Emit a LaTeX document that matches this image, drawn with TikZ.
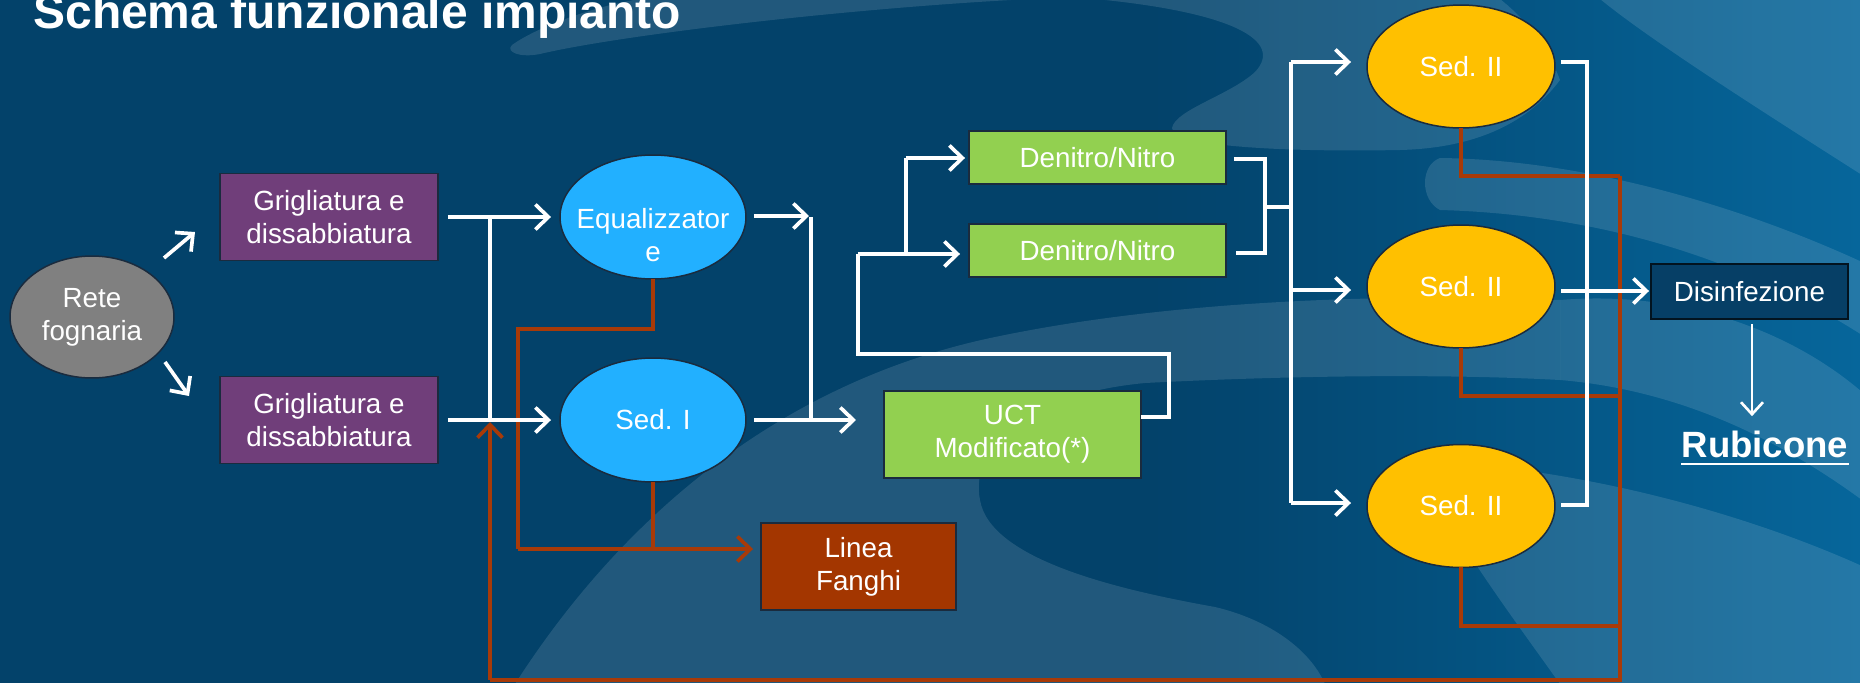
\documentclass[tikz,border=0pt]{standalone}
\usepackage{fontspec}
\setmainfont{Liberation Sans}
\usetikzlibrary{arrows.meta,shapes.geometric,calc}
\definecolor{bgdark}{HTML}{03426A}
\definecolor{bgright}{HTML}{06669B}
\definecolor{purp}{HTML}{703E7A}
\definecolor{skyb}{HTML}{22B0FF}
\definecolor{goldy}{HTML}{FFC000}
\definecolor{leaf}{HTML}{92D050}
\definecolor{rustf}{HTML}{A33600}
\definecolor{rustl}{HTML}{A83A08}
\definecolor{grayn}{HTML}{808080}
\definecolor{navyb}{HTML}{063F66}
\definecolor{edgec}{HTML}{1A2B3E}
\begin{document}
\begin{tikzpicture}[x=0.02cm,y=-0.02cm,
  shp/.style={draw=edgec,line width=0.85pt,inner sep=0pt,outer sep=0pt},
  boxs/.style={shp,rectangle},
  ells/.style={shp,ellipse},
  lbl/.style={text=white,align=center,font=\fontsize{15.8}{18.7}\selectfont,inner sep=0pt},
  wl/.style={draw=white,line width=2.1pt},
  wa/.style={wl,-{Straight Barb[length=0.26cm,width=0.5cm]}},
  bl/.style={draw=rustl,line width=2.1pt},
  ba/.style={bl,-{Straight Barb[length=0.26cm,width=0.5cm]}},
  lite/.style={fill=white,fill opacity=0.12,draw=none},
]
\useasboundingbox (0,0) rectangle (1860,683);
% background
\fill[bgdark] (0,0) rectangle (1860,683);
\shade[left color=bgdark,right color=bgright] (1150,0) rectangle (1860,683);
\path[lite] (512,45) .. controls (540,25) and (600,5) .. (640,-1) -- (1030,-1)
  .. controls (850,8) and (620,35) .. (540,54) .. controls (520,58) and (505,52) .. (512,45) -- cycle;
\path[lite] (1095,-1) .. controls (1230,12) and (1285,40) .. (1255,72)
  .. controls (1230,95) and (1175,110) .. (1172,128)
  .. controls (1172,148) and (1300,152) .. (1400,150)
  .. controls (1480,148) and (1530,120) .. (1560,80)
  .. controls (1545,40) and (1520,15) .. (1500,-1) -- cycle;
\path[lite] (1600,-1) .. controls (1650,40) and (1760,110) .. (1862,175) -- (1862,-1) -- cycle;
\path[lite] (1440,158) .. controls (1600,160) and (1760,215) .. (1862,262) -- (1862,335)
  .. controls (1760,270) and (1620,215) .. (1440,210) .. controls (1420,200) and (1420,165) .. (1440,158) -- cycle;
\path[lite] (515,684) .. controls (620,520) and (780,380) .. (1000,336)
  .. controls (1150,305) and (1350,292) .. (1560,300) -- (1560,380)
  .. controls (1450,374) and (1300,375) .. (1145,383)
  .. controls (1020,395) and (970,450) .. (980,500)
  .. controls (990,560) and (1120,590) .. (1215,607)
  .. controls (1270,620) and (1310,650) .. (1325,684) -- cycle;
\path[lite] (1560,300) .. controls (1680,290) and (1790,330) .. (1862,392) -- (1862,500)
  .. controls (1780,440) and (1680,390) .. (1560,380) -- cycle;
\path[lite] (1420,460) .. controls (1600,470) and (1760,520) .. (1862,566) -- (1862,684) -- (1560,684)
  .. controls (1500,600) and (1440,520) .. (1420,460) -- cycle;
% title
\node[anchor=base west,inner sep=0pt,text=white,font=\fontsize{27.3}{32}\selectfont\bfseries] (title) at (33,28) {Schema funzionale impianto};
% shapes
\node[ells,fill=grayn,minimum width=3.28cm,minimum height=2.44cm] (rete) at (92,317) {};
\node[boxs,fill=purp,minimum width=4.36cm,minimum height=1.74cm] (g1) at (329,217) {};
\node[boxs,fill=purp,minimum width=4.36cm,minimum height=1.74cm] (g2) at (329,420) {};
\node[ells,fill=skyb,minimum width=3.72cm,minimum height=2.48cm] (eq) at (653,217) {};
\node[ells,fill=skyb,minimum width=3.72cm,minimum height=2.48cm] (s1) at (653,420) {};
\node[boxs,fill=rustf,minimum width=3.9cm,minimum height=1.74cm] (lf) at (858.5,566.5) {};
\node[boxs,fill=leaf,minimum width=5.14cm,minimum height=1.74cm] (uct) at (1012.5,434.5) {};
\node[boxs,fill=leaf,minimum width=5.14cm,minimum height=1.06cm] (dn1) at (1097.5,157.5) {};
\node[boxs,fill=leaf,minimum width=5.14cm,minimum height=1.06cm] (dn2) at (1097.5,250.5) {};
\node[ells,fill=goldy,minimum width=3.76cm,minimum height=2.46cm] (s21) at (1461,66.5) {};
\node[ells,fill=goldy,minimum width=3.76cm,minimum height=2.46cm] (s22) at (1461,286.5) {};
\node[ells,fill=goldy,minimum width=3.76cm,minimum height=2.46cm] (s23) at (1461,506) {};
\node[boxs,fill=navyb,draw=black!70!navyb,minimum width=3.94cm,minimum height=1.1cm] (dis) at (1749.5,291.5) {};
\node[anchor=base,inner sep=0pt,text=white,font=\fontsize{20.8}{24}\selectfont\bfseries] (rub) at (1765,457) {Rubicone};
\draw[white,line width=1.5pt] ($(rub.base west)+(0,7)$) -- ($(rub.base east)+(0,7)$);
% brown sludge lines
\coordinate (b1) at (653,329); \coordinate (b2) at (518,329); \coordinate (b3) at (518,549); \coordinate (b4) at (653,549);
\draw[bl] (eq.south) -- (b1) -- (b2) -- (b3);
\draw[ba] (b3) -- ($(b3 -| lf.west)+(-8,0)$);
\draw[bl] (s1.south) -- (b4);
\coordinate (k1) at (1461,176); \coordinate (k2) at (1461,396); \coordinate (k3) at (1461,626);
\coordinate (kx1) at (1620,176); \coordinate (kx2) at (1620,396); \coordinate (kx3) at (1620,626);
\coordinate (kb) at (1620,680); \coordinate (kl) at (490,680);
\draw[bl] (s21.south) -- (k1) -- (kx1);
\draw[bl] (s22.south) -- (k2) -- (kx2);
\draw[bl] (s23.south) -- (k3) -- (kx3);
\draw[bl] (kx1) -- (kb) -- (kl);
\draw[ba] (kl) -- ($(kl |- s1.west)+(0,2)$);
% white flow lines
\coordinate (r1a) at (164,258); \coordinate (r1b) at (195,232);
\coordinate (r2a) at (165,362); \coordinate (r2b) at (189,396);
\draw[wa] (r1a) -- (r1b);
\draw[wa] (r2a) -- (r2b);
\coordinate (jA) at (490,217); \coordinate (jB) at (490,420);
\draw[wa] ($(g1.east)+(10,0)$) -- ($(eq.west)+(-9,0)$);
\draw[wa] ($(g2.east)+(10,0)$) -- ($(s1.west)+(-9,0)$);
\draw[wl] (jA) -- (jB);
\coordinate (m1) at (811,217); \coordinate (m2) at (811,420);
\draw[wa] ($(eq.east)+(8,-1)$) -- ($(m1)+(-2,-1)$);
\draw[wl] (m1) -- (m2);
\draw[wa] ($(s1.east)+(8,0)$) -- ($(s1.east)+(110,0)$);
\coordinate (u1) at (1169,417); \coordinate (u2) at (1169,354); \coordinate (u3) at (858,354);
\coordinate (u4) at (858,254); \coordinate (u5) at (906,254); \coordinate (u6) at (906,158);
\draw[wl] (uct.east |- u1) -- (u1) -- (u2) -- (u3) -- (u4);
\draw[wa] (u4) -- ($(u4 -| dn2.west)+(-9,0)$);
\draw[wl] (u5) -- (u6);
\draw[wa] (u6) -- ($(u6 -| dn1.west)+(-4,0)$);
\coordinate (d1) at (1265,159); \coordinate (d2) at (1265,253); \coordinate (dm) at (1265,207);
\coordinate (c1) at (1291,62); \coordinate (c2) at (1291,290); \coordinate (c3) at (1291,503); \coordinate (cm) at (1291,207);
\draw[wl] ($(dn1.east |- d1)+(8,0)$) -- (d1) -- (d2) -- ($(dn2.east |- d2)+(10,0)$);
\draw[wl] (dm) -- (cm);
\draw[wl] (c1) -- (c3);
\draw[wa] (c1) -- ($(c1 -| s21.west)+(-16,0)$);
\draw[wa] (c2) -- ($(c2 -| s22.west)+(-16,0)$);
\draw[wa] (c3) -- ($(c3 -| s23.west)+(-16,0)$);
\coordinate (e1) at (1587,62); \coordinate (e2) at (1587,291); \coordinate (e3) at (1587,505);
\draw[wl] ($(s21.east |- e1)+(6,0)$) -- (e1) -- (e3) -- ($(s23.east |- e3)+(6,0)$);
\draw[wl] ($(s22.east |- e2)+(6,0)$) -- (e2);
\draw[wa] (e2) -- ($(e2 -| dis.west)+(-2,0)$);
\coordinate (r0) at (1752,324);
\draw[white,line width=1.5pt,-{Straight Barb[length=0.24cm,width=0.44cm]}] (r0) -- ($(r0 |- rub.north)+(0,-14)$);
% labels
\node[lbl] at (rete) {Rete\\fognaria};
\node[lbl] at (g1) {Grigliatura e\\dissabbiatura};
\node[lbl] at (g2) {Grigliatura e\\dissabbiatura};
\node[lbl] at ($(eq)+(0,18)$) {Equalizzator\\e};
\node[lbl] at (s1) {Sed. I};
\node[lbl] at (lf) {Linea\\Fanghi};
\node[lbl] at (uct) {UCT\\Modificato(*)};
\node[lbl] at (dn1) {Denitro/Nitro};
\node[lbl] at (dn2) {Denitro/Nitro};
\node[lbl] at (s21) {Sed. II};
\node[lbl] at (s22) {Sed. II};
\node[lbl] at (s23) {Sed. II};
\node[lbl] at (dis) {Disinfezione};
\end{tikzpicture}
\end{document}
